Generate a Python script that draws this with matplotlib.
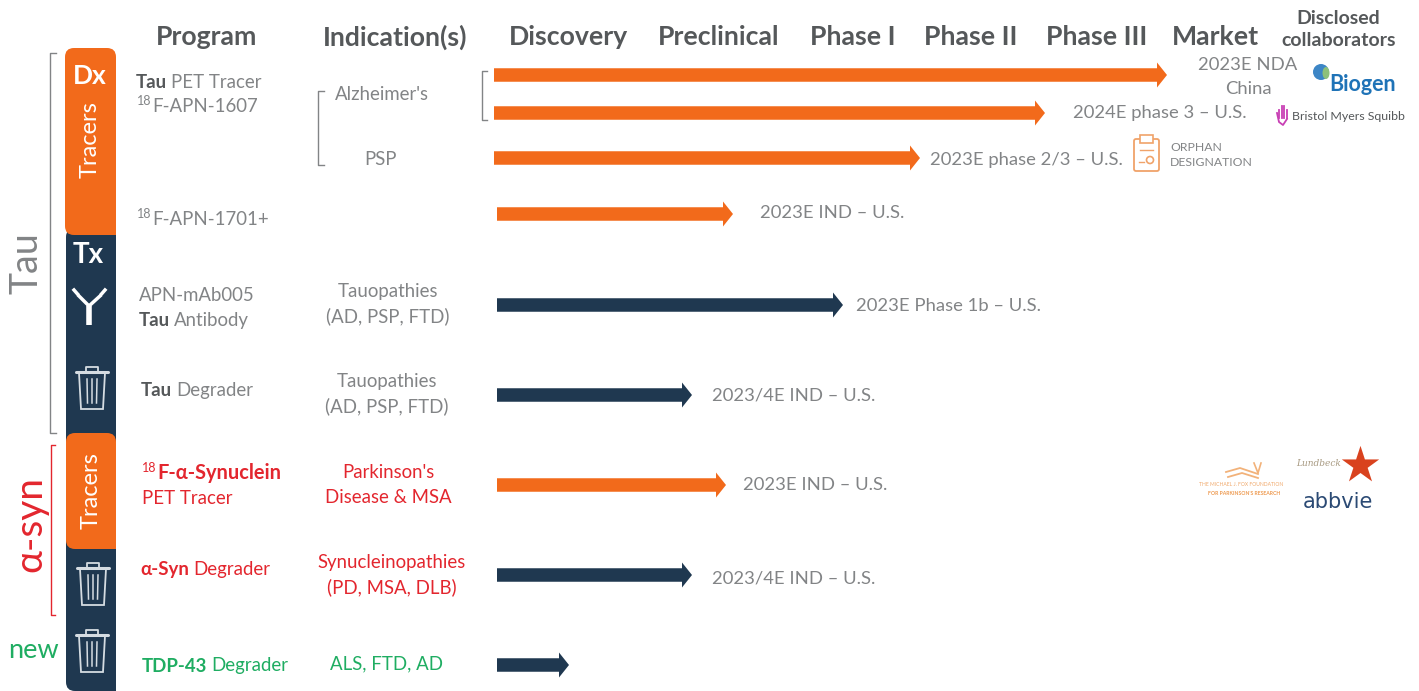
import matplotlib
matplotlib.use('Agg')
import matplotlib.pyplot as plt
from matplotlib.patches import FancyBboxPatch, Rectangle, Circle, Polygon, Ellipse

plt.rcParams['font.family'] = ['Lato', 'DejaVu Sans']

GREY = '#828486'
DARK = '#55585a'
ORANGE = '#f26a1b'
NAVY = '#1f3850'
RED = '#e3262e'
GREEN = '#1fad62'

# header row
stages = ['Program', 'Indication(s)', 'Discovery', 'Preclinical', 'Phase I', 'Phase II', 'Phase III', 'Market']
stage_x = [207, 395, 568, 719, 853, 971, 1097, 1215]

# arrows
arrow_y = [75, 113, 158, 214, 305, 395, 485, 575, 665]
arrow_start = [494, 494, 494, 497, 497, 497, 497, 497, 497]
arrow_end = [1167, 1045, 920, 733, 843, 692, 726, 692, 569]
arrow_color = [ORANGE, ORANGE, ORANGE, ORANGE, NAVY, NAVY, ORANGE, NAVY, NAVY]

# status text next to arrows
status_text = ['2023E NDA\nChina', '2024E phase 3 \u2013 U.S.', '2023E phase 2/3 \u2013 U.S.', '2023E IND \u2013 U.S.',
               '2023E Phase 1b \u2013 U.S.', '2023/4E IND \u2013 U.S.', '2023E IND \u2013 U.S.', '2023/4E IND \u2013 U.S.']
status_x = [1248, 1073, 930, 760, 856, 712, 743, 712]
status_y = [77, 113, 160, 213, 306, 395, 485, 578]
status_ha = ['center', 'left', 'left', 'left', 'left', 'left', 'left', 'left']

# indications
indications = ["Alzheimer's", 'PSP', 'Tauopathies\n(AD, PSP, FTD)', 'Tauopathies\n(AD, PSP, FTD)',
               "Parkinson's\nDisease & MSA", 'Synucleinopathies\n(PD, MSA, DLB)', 'ALS, FTD, AD']
indication_x = [382, 381, 388, 387, 388, 392, 386]
indication_y = [94, 159, 304, 394, 485, 575, 664]
indication_color = [GREY, GREY, GREY, GREY, RED, RED, GREEN]

fig = plt.figure(figsize=(14.19, 6.91), dpi=100)
ax = fig.add_axes([0, 0, 1, 1])
ax.set_xlim(0, 1419)
ax.set_ylim(691, 0)
ax.axis('off')


def runs(x, y, parts, size=13.4):
    # text pieces on one line, each one starting where the last one ended
    r = fig.canvas.get_renderer()
    for txt, weight, col, *rest in parts:
        sz = rest[0] if rest else size
        dy = rest[1] if len(rest) > 1 else 0
        t = ax.text(x, y + dy, txt, color=col, fontweight=weight, fontsize=sz, va='center', ha='left')
        bb = t.get_window_extent(r)
        x = bb.x1 + 4 if weight == 'bold' else bb.x1 + 1


def lines(x, y, txt, col, size, ha='center', gap=24.5):
    # own line placing, matplotlib spacing changes with the glyphs
    rows = txt.split('\n')
    for i, row in enumerate(rows):
        ax.text(x, y + (i - (len(rows) - 1) / 2) * gap, row, color=col, fontsize=size, ha=ha, va='center')


def trash(cx, cy, col='#d5dce2'):
    ax.add_patch(Polygon([(cx - 13, cy - 15), (cx + 13, cy - 15), (cx + 11, cy + 21), (cx - 11, cy + 21)],
                         closed=True, fc='none', ec=col, lw=1.3))
    ax.plot([cx - 16, cx + 16], [cy - 16, cy - 16], color=col, lw=2.2, solid_capstyle='round')
    ax.plot([cx - 6, cx - 6, cx + 6, cx + 6], [cy - 17, cy - 21, cy - 21, cy - 17], color=col, lw=1.3)
    for d in (-5, 0, 5):
        ax.plot([cx + d, cx + d * 0.9], [cy - 9, cy + 15], color=col, lw=1.1)


# side bar
ax.add_patch(FancyBboxPatch((66, 228), 70, 463, boxstyle='round,pad=0,rounding_size=9', fc=NAVY, ec='none'))
ax.add_patch(FancyBboxPatch((65, 48), 51, 187, boxstyle='round,pad=0,rounding_size=9', fc=ORANGE, ec='none'))
ax.add_patch(Rectangle((100, 215), 16, 20, fc=ORANGE, ec='none'))
ax.add_patch(FancyBboxPatch((66, 433), 50, 116, boxstyle='round,pad=0,rounding_size=9', fc=ORANGE, ec='none'))
ax.add_patch(Rectangle((100, 530), 16, 19, fc=ORANGE, ec='none'))
ax.add_patch(Rectangle((116, 0), 30, 691, fc='white', ec='none'))

ax.text(90, 76, 'Dx', color='white', fontsize=19, fontweight='bold', ha='center', va='center')
ax.text(90, 140, 'Tracers', color='white', fontsize=17, rotation=90, ha='center', va='center')
ax.text(88, 255, 'Tx', color='white', fontsize=20, fontweight='bold', ha='center', va='center')
ax.text(91, 491, 'Tracers', color='white', fontsize=17, rotation=90, ha='center', va='center')

# antibody icon
ax.plot([89, 89], [306, 325], color='white', lw=4, solid_capstyle='butt')
ax.plot([89, 79], [306, 296], color='white', lw=2.5)
ax.plot([89, 100], [306, 296], color='white', lw=2.5)
ax.plot([77.5, 74], [294, 290], color='white', lw=2.5)
ax.plot([101.5, 105], [294, 290], color='white', lw=2.5)
for cy, cx in [(388, 92), (584, 93), (651, 92)]:
    trash(cx, cy)

# group labels and brackets
ax.text(27, 263, 'Tau', color=GREY, fontsize=27, rotation=90, ha='center', va='center')
ax.text(30, 524, '\u03b1-syn', color=RED, fontsize=28, rotation=90, ha='center', va='center')
ax.text(33, 651, 'new', color=GREEN, fontsize=19.5, ha='center', va='center')
ax.plot([56, 50, 50, 56], [53, 53, 433, 433], color=GREY, lw=1)
ax.plot([55, 51, 51, 55], [445, 445, 615, 615], color=RED, lw=1)
ax.plot([324, 318, 318, 324], [91, 91, 165, 165], color=GREY, lw=1)
ax.plot([487, 482, 482, 487], [71, 71, 120, 120], color=GREY, lw=1)

# header
for name, x in zip(stages, stage_x):
    ax.text(x, 37, name, color=DARK, fontsize=19.2, fontweight='bold', ha='center', va='center')
ax.text(1338, 18, 'Disclosed', color=DARK, fontsize=14, fontweight='bold', ha='center', va='center')
ax.text(1339, 40, 'collaborators', color=DARK, fontsize=14, fontweight='bold', ha='center', va='center')

# program names
runs(136, 82, [('Tau', 'bold', DARK), ('PET Tracer', 'normal', GREY)])
runs(137, 106, [('18', 'normal', GREY, 9, -5), ('F-APN-1607', 'normal', GREY)])
runs(137, 219, [('18', 'normal', GREY, 9, -5), ('F-APN-1701+', 'normal', GREY)])
runs(139, 295, [('APN-mAb005', 'normal', GREY)])
runs(139, 320, [('Tau', 'bold', DARK), ('Antibody', 'normal', GREY)])
runs(141, 390, [('Tau', 'bold', DARK), ('Degrader', 'normal', GREY)])
runs(142, 473, [('18', 'normal', RED, 9, -5), ('F-\u03b1-Synuclein', 'bold', RED, 14.4)])
runs(142, 498, [('PET Tracer', 'normal', RED)])
runs(140, 569, [('\u03b1-Syn', 'bold', RED), ('Degrader', 'normal', RED)])
runs(142, 666, [('TDP-43', 'bold', GREEN), ('Degrader', 'normal', GREEN)])

for txt, x, y, col in zip(indications, indication_x, indication_y, indication_color):
    lines(x, y, txt, col, 13.4)

# pipeline arrows
for y, x0, x1, col in zip(arrow_y, arrow_start, arrow_end, arrow_color):
    ax.arrow(x0, y, x1 - x0, 0, width=13.5, head_width=25, head_length=10, length_includes_head=True,
             fc=col, ec='none')

for txt, x, y, ha in zip(status_text, status_x, status_y, status_ha):
    lines(x, y, txt, GREY, 13.3, ha=ha)

# orphan designation icon
ax.add_patch(FancyBboxPatch((1134, 139), 25, 32, boxstyle='round,pad=0,rounding_size=2', fc='white', ec='#f0a36a', lw=1.3))
ax.add_patch(Rectangle((1140, 135), 13, 8, fc='white', ec='#f0a36a', lw=1.2))
ax.plot([1140, 1153], [150, 150], color='#f0a36a', lw=1)
ax.plot([1139, 1144], [162, 162], color='#f0a36a', lw=1)
ax.add_patch(Circle((1150, 160), 3.5, fc='none', ec='#f0a36a', lw=1.2))
ax.text(1170, 155, 'ORPHAN\nDESIGNATION', color=GREY, fontsize=8.8, ha='left', va='center', linespacing=1.35)

# collaborator logos
ax.add_patch(Circle((1321, 72), 8, fc='#3d86c6', ec='none'))
ax.add_patch(Ellipse((1326, 73), 7, 12, fc='#8dc07a', ec='none'))
ax.text(1363, 84, 'Biogen', color='#1f73b7', fontsize=15.5, ha='center', va='center', fontweight='bold')
ax.text(1348, 116, 'Bristol Myers Squibb', color=DARK, fontsize=8.9, ha='center', va='center')
for dx, top in zip((1279, 1281.5, 1284, 1286.5), (110, 106, 106, 110)):
    ax.plot([dx, dx], [top, 118], color='#c83fb4', lw=1.3)
ax.plot([1277, 1279, 1283, 1287], [113, 122, 125, 119], color='#c83fb4', lw=1.3)

ax.plot([1226, 1240, 1258], [472, 468, 474], color='#f2b27a', lw=1.3)
ax.plot([1228, 1242, 1258], [477, 473, 478], color='#f2b27a', lw=1.3)
ax.plot([1254, 1258, 1261], [463, 473, 463], color='#f2b27a', lw=1.2)
ax.text(1241, 484, 'THE MICHAEL J. FOX FOUNDATION', color='#f0a86a', fontsize=3.6, ha='center', va='center')
ax.text(1244, 493, "FOR PARKINSON'S RESEARCH", color='#ee9a50', fontsize=3.7, ha='center', va='center', fontweight='bold')
ax.text(1319, 463, 'Lundbeck', color='#a89a82', fontsize=6.5, ha='center', va='center', family='DejaVu Serif', style='italic')
ax.scatter([1360], [465], marker='*', s=800, color='#d9421e', linewidths=0)
ax.text(1338, 502, 'abbvie', color='#2b4a74', fontsize=15, ha='center', va='center', family='DejaVu Sans')

fig.savefig('out.png', dpi=100)
